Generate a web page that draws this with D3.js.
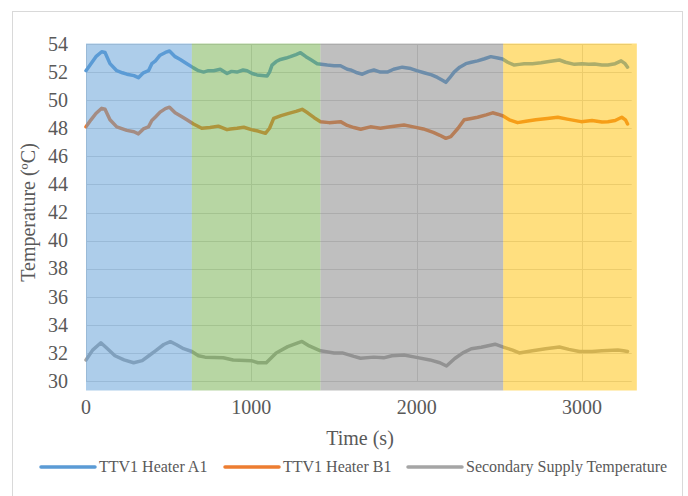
<!DOCTYPE html>
<html>
<head>
<meta charset="utf-8">
<style>
    body { margin: 0; background: #fff; }
    text { font-family: "Liberation Serif", "Times New Roman", serif; fill: #595959; }
    .grid line { stroke: #d9d9d9; stroke-width: 1; }
    path.series { fill: none; stroke-width: 3.5; stroke-linejoin: round; stroke-linecap: round; }
</style>
</head>
<body>
<div id="chart"></div>
<script src="https://cdn.jsdelivr.net/npm/d3@7"></script>
<script>

    // time (s) and temperature (degC)
    var timeA1 = [0, 30, 60, 95, 115, 145, 186, 220, 247, 290, 317, 347, 378, 398, 420, 448, 480, 505, 539, 570,
        610, 650, 680, 711, 740, 772, 812, 853, 880, 913, 950, 974, 1005, 1034, 1095, 1110, 1125, 1150, 1176, 1210,
        1236, 1270, 1297, 1330, 1358, 1398, 1459, 1500, 1539, 1580, 1600, 1640, 1671, 1710, 1741, 1780, 1822, 1860,
        1913, 1964, 2000, 2044, 2090, 2125, 2150, 2176, 2200, 2226, 2260, 2297, 2330, 2368, 2410, 2448, 2490, 2519,
        2550, 2590, 2620, 2650, 2700, 2752, 2800, 2863, 2900, 2954, 3000, 3040, 3075, 3120, 3156, 3200, 3236, 3260, 3275];
    var heaterA1 = [52.1, 52.6, 53.1, 53.45, 53.4, 52.6, 52.1, 51.95, 51.85, 51.75, 51.6, 51.95, 52.1, 52.6, 52.8, 53.2, 53.4, 53.5, 53.1, 52.9,
        52.6, 52.3, 52.1, 52.0, 52.1, 52.1, 52.2, 51.9, 52.05, 52.0, 52.15, 52.1, 51.9, 51.8, 51.72, 52.0,
        52.5, 52.75, 52.9, 53.0, 53.1, 53.25, 53.38, 53.1, 52.9, 52.6, 52.5, 52.45, 52.45, 52.2, 52.15, 51.95, 51.85,
        52.05, 52.15, 52.0, 52.0, 52.2, 52.35, 52.25, 52.1, 51.95, 51.8, 51.62, 51.45, 51.27, 51.6, 52.0, 52.35, 52.6,
        52.7, 52.8, 52.95, 53.1, 53.0, 52.93, 52.7, 52.5, 52.55, 52.6, 52.6, 52.67, 52.75, 52.86, 52.7, 52.55, 52.6,
        52.55, 52.58, 52.5, 52.5, 52.6, 52.8, 52.6, 52.35];

    var timeB1 = [0, 30, 60, 95, 115, 145, 186, 247, 290, 317, 347, 378, 398, 420, 448, 480, 505, 539, 575, 610,
        650, 700, 750, 800, 853, 873, 913, 954, 1000, 1040, 1085, 1110, 1135, 1180, 1226, 1270, 1307, 1340, 1380, 1418,
        1470, 1539, 1580, 1620, 1661, 1720, 1780, 1840, 1923, 1980, 2040, 2100, 2140, 2176, 2206, 2250, 2287, 2330,
        2368, 2420, 2459, 2490, 2523, 2560, 2610, 2660, 2720, 2790, 2853, 2910, 2994, 3060, 3120, 3156, 3200, 3240, 3262, 3275];
    var heaterB1 = [48.1, 48.6, 49.05, 49.42, 49.35, 48.6, 48.1, 47.85, 47.75, 47.6, 47.95, 48.1, 48.55, 48.8, 49.15, 49.4, 49.5, 49.1, 48.85, 48.6,
        48.3, 48.0, 48.05, 48.15, 47.9, 47.95, 48.0, 48.07, 47.9, 47.8, 47.64, 48.0, 48.7, 48.9, 49.06, 49.2, 49.35, 49.1, 48.75, 48.47,
        48.4, 48.47, 48.2, 48.05, 47.93, 48.1, 48.0, 48.1, 48.23, 48.1, 47.95, 47.7, 47.5, 47.28, 47.4, 48.0, 48.6, 48.7,
        48.78, 48.95, 49.1, 49.0, 48.87, 48.6, 48.4, 48.5, 48.6, 48.7, 48.78, 48.65, 48.47, 48.55, 48.45, 48.47, 48.55, 48.78, 48.6, 48.3];

    var timeSupply = [0, 40, 90, 130, 175, 230, 288, 340, 380, 420, 470, 510, 545, 590, 640, 680, 720, 830, 890, 1000,
        1040, 1090, 1150, 1220, 1306, 1350, 1418, 1500, 1550, 1620, 1660, 1740, 1800, 1850, 1923, 1990, 2080, 2140,
        2180, 2230, 2279, 2330, 2390, 2474, 2528, 2580, 2620, 2700, 2780, 2863, 2920, 2984, 3060, 3120, 3216, 3250, 3275];
    var supplyTemp = [31.5, 32.2, 32.72, 32.3, 31.8, 31.5, 31.3, 31.45, 31.8, 32.15, 32.6, 32.8, 32.6, 32.3, 32.1, 31.8, 31.7, 31.65, 31.5, 31.45,
        31.3, 31.3, 32.0, 32.45, 32.82, 32.5, 32.15, 32.0, 32.0, 31.75, 31.62, 31.7, 31.65, 31.8, 31.85, 31.7, 31.5, 31.3,
        31.07, 31.6, 32.0, 32.3, 32.4, 32.62, 32.4, 32.2, 32.0, 32.15, 32.3, 32.42, 32.25, 32.1, 32.1, 32.15, 32.2, 32.15, 32.1];

    // test phases shaded behind the curves (start, end in s)
    var phaseStart = [0, 640, 1418, 2523];
    var phaseEnd = [640, 1418, 2523, 3331];
    var phaseColors = ["#5b9bd5", "#70ad47", "#7f7f7f", "#ffc000"];

    var seriesNames = ["TTV1 Heater A1", "TTV1 Heater B1", "Secondary Supply Temperature"];
    var seriesColors = ["#5b9bd5", "#ed7d31", "#a5a5a5"];

    var yTicks = d3.range(30, 55, 2);
    var xTicks = [0, 1000, 2000, 3000];

    var width = 688, height = 496;

    var svg = d3.select("#chart").append("svg")
        .attr("width", width)
        .attr("height", height);

    svg.append("rect")
        .attr("x", 12.5).attr("y", 11.5)
        .attr("width", 670).attr("height", 500)
        .attr("fill", "#fff")
        .attr("stroke", "#d9d9d9");

    var x = d3.scaleLinear().domain([0, 3300]).range([86, 631.7]);
    var y = d3.scaleLinear().domain([30, 54]).range([381, 44]);

    var grid = svg.append("g").attr("class", "grid");
    grid.selectAll("line.h")
        .data(yTicks)
        .enter().append("line")
        .attr("class", "h")
        .attr("x1", x(0)).attr("x2", x(3300))
        .attr("y1", function (d) { return Math.round(y(d)) + 0.5; })
        .attr("y2", function (d) { return Math.round(y(d)) + 0.5; });
    grid.selectAll("line.v")
        .data(xTicks)
        .enter().append("line")
        .attr("class", "v")
        .attr("x1", function (d) { return Math.round(x(d)) + 0.5; })
        .attr("x2", function (d) { return Math.round(x(d)) + 0.5; })
        .attr("y1", y(54)).attr("y2", y(30));

    var series = [
        {t: timeA1, v: heaterA1},
        {t: timeB1, v: heaterB1},
        {t: timeSupply, v: supplyTemp}
    ];

    var line = d3.line()
        .x(function (d) { return x(d[0]); })
        .y(function (d) { return y(d[1]); });

    svg.append("g").selectAll("path.series")
        .data(series)
        .enter().append("path")
        .attr("class", "series")
        .attr("stroke", function (d, i) { return seriesColors[i]; })
        .attr("d", function (d) { return line(d3.zip(d.t, d.v)); });

    // translucent phase bands on top of the curves
    svg.append("g").selectAll("rect.phase")
        .data(phaseStart)
        .enter().append("rect")
        .attr("class", "phase")
        .attr("x", function (d) { return x(d); })
        .attr("width", function (d, i) { return x(phaseEnd[i]) - x(d); })
        .attr("y", 43.5)
        .attr("height", 390.5 - 43.5)
        .attr("fill", function (d, i) { return phaseColors[i]; })
        .attr("fill-opacity", 0.5);

    svg.append("g").selectAll("text.ytick")
        .data(yTicks)
        .enter().append("text")
        .attr("class", "ytick")
        .attr("x", 68)
        .attr("y", function (d) { return y(d); })
        .attr("dy", "0.34em")
        .attr("text-anchor", "end")
        .style("font-size", "20px")
        .text(function (d) { return d; });

    svg.append("g").selectAll("text.xtick")
        .data(xTicks)
        .enter().append("text")
        .attr("class", "xtick")
        .attr("x", function (d) { return x(d); })
        .attr("y", 414)
        .attr("text-anchor", "middle")
        .style("font-size", "20px")
        .text(function (d) { return d; });

    svg.append("text")
        .attr("x", 360)
        .attr("y", 445)
        .attr("text-anchor", "middle")
        .style("font-size", "20px")
        .text("Time (s)");

    svg.append("text")
        .attr("transform", "translate(35," + ((y(54) + y(30)) / 2) + ") rotate(-90)")
        .attr("text-anchor", "middle")
        .style("font-size", "20px")
        .text("Temperature (\u00baC)");

    var legendX = [41, 225, 408];
    var legend = svg.append("g").selectAll("g.legend")
        .data(seriesNames)
        .enter().append("g")
        .attr("class", "legend")
        .attr("transform", function (d, i) { return "translate(" + legendX[i] + ",467)"; });
    legend.append("line")
        .attr("x1", 0).attr("x2", 54)
        .attr("stroke", function (d, i) { return seriesColors[i]; })
        .attr("stroke-width", 3.5)
        .attr("stroke-linecap", "round");
    legend.append("text")
        .attr("x", 58)
        .attr("dy", "0.33em")
        .style("font-size", "16px")
        .text(function (d) { return d; });

</script>
</body>
</html>
